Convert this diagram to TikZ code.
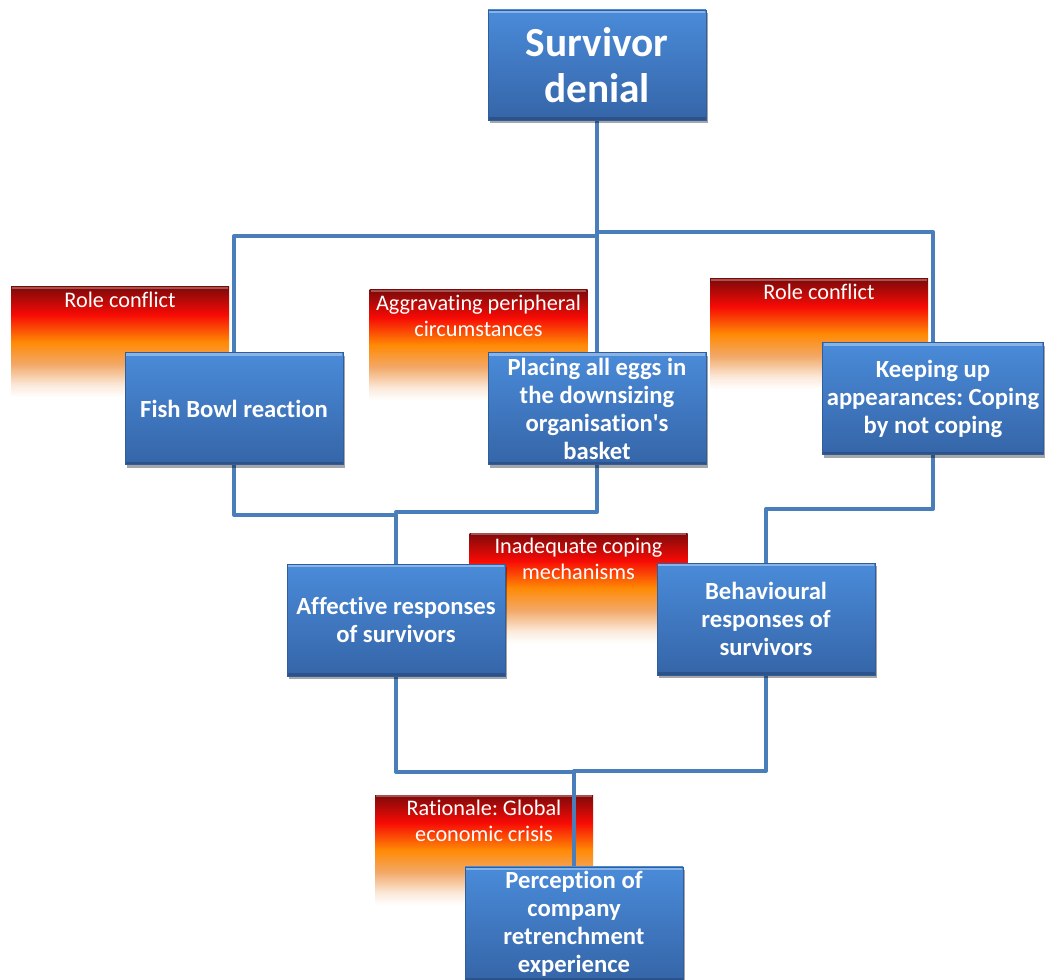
\documentclass[tikz,border=0pt]{standalone}
\usepackage{fontspec}
\setmainfont[Ligatures=NoCommon]{Carlito}
\usetikzlibrary{shadows}
\frenchspacing

\definecolor{firepeach}{HTML}{F2A867}
\definecolor{fireorange}{HTML}{FF8A05}
\definecolor{firered}{HTML}{F70A05}
\definecolor{firedark}{HTML}{7E0A0A}
\definecolor{firewhite}{HTML}{FBE9DA}
\definecolor{boxtop}{HTML}{4A8BD9}
\definecolor{boxbot}{HTML}{3565A8}
\definecolor{boxedge}{HTML}{2F5E9E}
\definecolor{linkblue}{HTML}{4A7EBB}

% vertical fire gradient: white at the bottom, dark red at the top
\pgfdeclareverticalshading{fire}{100bp}{%
  color(0bp)=(white);
  color(25bp)=(white);
  color(30.5bp)=(firewhite);
  color(40bp)=(firepeach);
  color(50bp)=(fireorange);
  color(62.5bp)=(firered);
  color(75bp)=(firedark);
  color(100bp)=(firedark)}

\pgfdeclarelayer{back}
\pgfdeclarelayer{links}
\pgfsetlayers{back,links,main}

\tikzset{
  bluebox/.style={rectangle, minimum width=163.5pt, minimum height=84pt,
    top color=boxtop, bottom color=boxbot, draw=boxedge, line width=0.6pt,
    drop shadow={shadow xshift=1.5pt, shadow yshift=-2.5pt, opacity=0.35, fill=black},
    text=white, font=\fontsize{18.5}{21}\selectfont\bfseries, align=center,
    path picture={
      \draw[white, opacity=0.35, line width=2.2pt]
        ([xshift=1pt,yshift=-1.2pt]path picture bounding box.north west) --
        ([xshift=-1pt,yshift=-1.2pt]path picture bounding box.north east);
      \draw[black, opacity=0.18, line width=2pt]
        ([yshift=1pt]path picture bounding box.south west) --
        ([yshift=1pt]path picture bounding box.south east);}},
  firebox/.style={rectangle, minimum width=163.5pt, minimum height=82.5pt,
    shading=fire, draw=none,
    path picture={
      \draw[white, opacity=0.3, line width=1.6pt]
        ([xshift=1pt,yshift=-0.9pt]path picture bounding box.north west) --
        ([xshift=-1pt,yshift=-0.9pt]path picture bounding box.north east);}},
  firetext/.style={anchor=north, text=white, align=center, inner sep=0pt,
    font=\fontsize{16.7}{19}\selectfont},
  link/.style={draw=linkblue, line width=3pt, line join=round, line cap=round}
}

\begin{document}
\begin{tikzpicture}[x=0.75pt, y=-0.75pt]
\useasboundingbox (0,0) rectangle (1045,980);

% main boxes
\node[bluebox, font=\fontsize{31}{34}\selectfont\bfseries, minimum height=82.5pt]
  (sd) at (597,65) {Survivor\\denial};
\node[bluebox] (fb) at (234,408.5) {Fish Bowl reaction};
\node[bluebox] (pe) at (597,408.5) {Placing all eggs in\\the downsizing\\organisation\textquotesingle s\\basket};
\node[bluebox] (ku) at (933,398.5) {Keeping up\\appearances: Coping\\by not coping};
\node[bluebox] (af) at (396,620) {Affective responses\\of survivors};
\node[bluebox] (br) at (766,619) {Behavioural\\responses of\\survivors};
\node[bluebox] (pc) at (574,924) {Perception of\\company\\retrenchment\\experience};

% gradient boxes behind
\begin{pgfonlayer}{back}
\node[firebox] (rc1) at (120,342) {};
\node[firebox] (ag)  at (478.5,345) {};
\node[firebox] (rc2) at (819,334) {};
\node[firebox] (ic)  at (578.5,588) {};
\node[firebox] (ra)  at (484,850) {};

\node[firetext] (rc1t) at ([yshift=-4pt]rc1.north) {Role conflict};
\node[firetext] (agt)  at ([yshift=-4pt]ag.north) {Aggravating peripheral\\circumstances};
\node[firetext] (rc2t) at ([yshift=-4pt]rc2.north) {Role conflict};
\node[firetext] (ict)  at ([yshift=-4pt]ic.north) {Inadequate coping\\mechanisms};
\node[firetext] (rat)  at ([yshift=-4pt]ra.north) {Rationale: Global\\economic crisis};
\end{pgfonlayer}

% junction points of the connectors
\coordinate (j1) at (597,236);
\coordinate (j2) at (597,232);
\coordinate (m1) at (396,515);
\coordinate (m2) at (396,512);
\coordinate (m3) at (766,509);
\coordinate (m4) at (574,772);
\coordinate (m5) at (574,771);

% connectors
\begin{pgfonlayer}{links}
\draw[link] (sd.south) -- (pe.north);
\draw[link] (fb.north) |- (j1);
\draw[link] (ku.north) |- (j2);
\draw[link] (fb.south) |- (m1) -- (af.north);
\draw[link] (pe.south) |- (m2);
\draw[link] (ku.south) |- (m3) -- (br.north);
\draw[link] (af.south) |- (m4) -- (pc.north);
\draw[link] (br.south) |- (m5);
\end{pgfonlayer}
\end{tikzpicture}
\end{document}
